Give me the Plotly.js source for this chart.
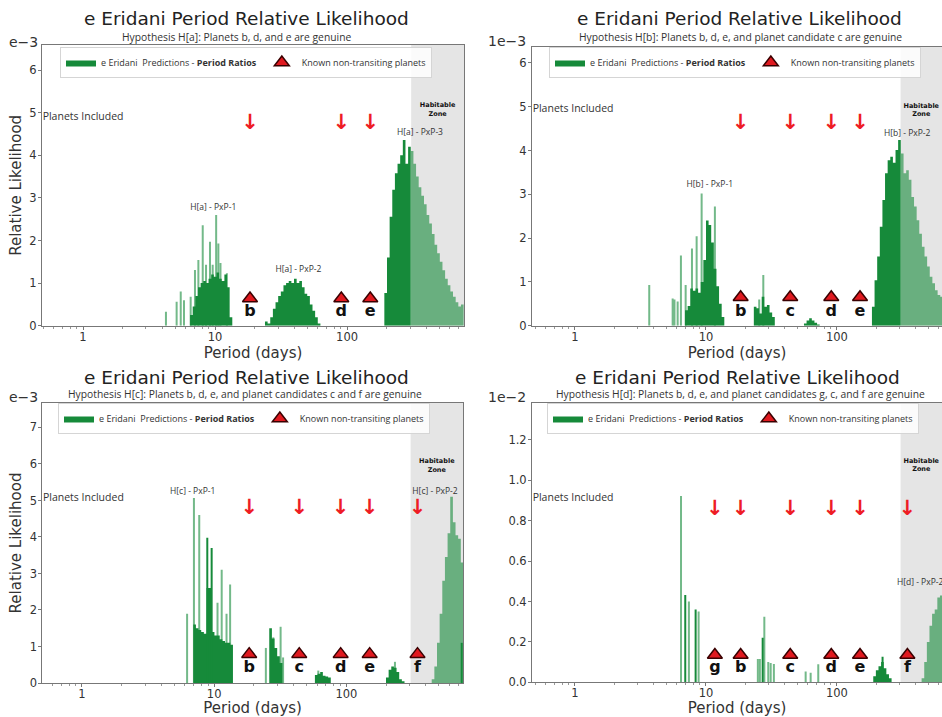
<!DOCTYPE html>
<html><head><meta charset="utf-8">
<script src="https://cdn.plot.ly/plotly-3.0.1.min.js"></script>
<style>html,body{margin:0;padding:0;background:#fff;}#chart{width:942px;height:717px;}</style>
</head><body><div id="chart"></div>
<script>
// ---------------- DATA ----------------
const BIN_DEX = 0.02;            // histogram bin width (log10 days)
const HZ_START = 306;            // habitable zone inner edge (days)
const PLANET_NAMES   = ['g', 'b', 'c', 'd', 'e', 'f'];
const PLANET_PERIODS = [11.7, 18.4, 44, 90.5, 150, 345];
const A_PLANETS = ['b', 'd', 'e'];
const B_PLANETS = ['b', 'c', 'd', 'e'];
const C_PLANETS = ['b', 'c', 'd', 'e', 'f'];
const D_PLANETS = ['g', 'b', 'c', 'd', 'e', 'f'];
const TICK_X = [1, 10, 100];
const TICK_X_TEXT = ['1', '10', '100'];
const MINOR_X = [0.5,0.6,0.7,0.8,0.9,2,3,4,5,6,7,8,9,20,30,40,50,60,70,80,90,200,300,400,500,600,700];

// Hypothesis H[a]
const A_DARK_STARTS = [6.47, 23.9, 191.7];
const A_DARK_1 = [0.25,0.45,0.7,0.9,1.0,1.05,1.0,1.1,1.2,1.15,1.25,1.1,1.05,1.2,0.9,0.2];
const A_DARK_2 = [0.1,0.05,0.2,0.4,0.55,0.7,0.8,0.95,1.0,1.05,1.0,1.1,1.0,1.05,0.9,0.75,0.7,0.5,0.35,0.2,0.05];
const A_DARK_3 = [0.77,1.6,2.56,3.19,3.58,3.8,4.0,4.36,3.8,4.2];
const A_LIGHT_STARTS = [304];
const A_LIGHT_1 = [4.1,3.8,3.5,3.25,3.05,2.85,2.6,2.4,2.15,1.9,1.7,1.5,1.3,1.1,0.95,0.8,0.68,0.55,0.45,0.5];
const A_SPIKE_P = [4.25,5.12,5.5,5.82,6.54,7.05,7.48,8.07,8.55,9.16,9.6,10.2,10.6,11.0,12.3];
const A_SPIKE_V = [0.33,0.56,0.8,0.6,0.68,1.31,1.54,2.36,1.43,1.97,1.43,2.6,1.93,1.47,1.23];

// Hypothesis H[b]
const B_DARK_STARTS = [6.92, 23.2, 56, 185];
const B_DARK_1 = [0.35,0.45,0.85,0.8,0.85,0.75,1.0,1.5,2.4,2.3,1.9,1.3,0.9,0.5,0.2];
const B_DARK_2 = [0.43,0.4,0.28,0.66,0.43,0.47,0.3,0.2];
const B_DARK_3 = [0.05,0.12,0.17,0.12,0.07,0.03];
const B_DARK_4 = [0.43,1.04,1.58,2.26,2.87,3.48,3.78,3.86,3.72,4.01,4.24];
const B_LIGHT_STARTS = [308];
const B_LIGHT_1 = [3.93,3.48,3.55,3.33,2.94,2.72,2.41,2.1,1.8,1.58,1.35,1.12,0.97,0.81,0.70,0.66];
const B_SPIKE_P = [3.69,5.57,5.75,6.08,6.44,7.0,7.82,8.49,9.27,11.7,25.5,27.4];
const B_SPIKE_V = [0.93,0.62,0.6,0.55,1.6,0.93,1.76,2.04,3.02,2.72,0.6,1.16];

// Hypothesis H[c]
const C_DARK_STARTS = [6.95, 26.1, 57.8, 199.3];
const C_DARK_1 = [1.6,1.5,1.45,1.4,1.35,2.6,2.6,1.4,1.3,1.3,1.2,1.15,1.1,1.1,1.05];
const C_DARK_2 = [1.5,1.22,0.96,0.73,0.55];
const C_DARK_3 = [0.22,0.25,0.3,0.2,0.18,0.15];
const C_DARK_4 = [0.15,0.36,0.45,0.42,0.3,0.1,0.05];
const C_LIGHT_STARTS = [442];
const C_LIGHT_1 = [0.1,0.45,1.1,1.9,2.8,3.45,4.1,5.1,4.4,4.05,3.95,3.3];
const C_SPIKE_P = [6.24,7.03,7.71,10.6,11.4,12.4,13.2,24.6,28.0,31.8,33.2,61.3,233];
const C_SPIKE_V = [1.9,5.07,4.6,2.2,3.1,1.9,2.7,0.96,1.25,1.54,0.7,0.34,0.58];
const C_DSPIKE_P = [8.87, 9.57, 745];
const C_DSPIKE_V = [3.98, 3.7, 1.1];

// Hypothesis H[d]
const D_DARK_STARTS = [189.3];
const D_DARK_1 = [0.03,0.06,0.08,0.1,0.07,0.04,0.02];
const D_LIGHT_STARTS = [443];
const D_LIGHT_1 = [0.02,0.1,0.2,0.28,0.34,0.36,0.42,0.43];
const D_SPIKE_P = [6.45,7.41,8.79,24.9,25.8,27.9,29.9,31.2,33.0,57.7,63.0,72.0];
const D_SPIKE_V = [0.922,0.40,0.35,0.115,0.115,0.325,0.10,0.095,0.09,0.053,0.047,0.089];
const D_DSPIKE_P = [6.95, 8.34, 27.1, 223];
const D_DSPIKE_V = [0.432, 0.36, 0.22, 0.127];

// annotation data
const HYP_LABELS = ['H[a]', 'H[b]', 'H[c]', 'H[d]'];
const SUBTITLES = [
  'Hypothesis H[a]: Planets b, d, and e are genuine',
  'Hypothesis H[b]: Planets b, d, e, and planet candidate c are genuine',
  'Hypothesis H[c]: Planets b, d, e, and planet candidates c and f are genuine',
  'Hypothesis H[d]: Planets b, d, e, and planet candidates g, c, and f are genuine'
];
const EXPONENTS = ['e\u22123', '1e\u22123', 'e\u22123', '1e\u22122'];
const A_PXP_P = [9.7, 42.8, 357];   const A_PXP_V = [2.76, 1.31, 4.53];
const B_PXP_P = [10.7, 344];        const B_PXP_V = [3.21, 4.39];
const C_PXP_P = [6.88, 468];        const C_PXP_V = [5.24, 5.24];
const D_PXP_P = [287];              const D_PXP_V = [0.49];

// ---------------- STYLE / LAYOUT ----------------
const W = 942, H = 717;
const DARK = 'rgb(22,138,58)';
const LIGHT = 'rgba(22,138,58,0.6)';
const RED = '#ee1c25';
const FONT = 'DejaVu Sans';
const SFONT = 'Open Sans';
const fx = x => x / W, fy = y => 1 - y / H;

const PANELS = [
  {dStarts:A_DARK_STARTS, dark:[A_DARK_1,A_DARK_2,A_DARK_3], lStarts:A_LIGHT_STARTS, light:[A_LIGHT_1],
   sp:A_SPIKE_P, sv:A_SPIKE_V, dsp:[], dsv:[], planets:A_PLANETS, pxpP:A_PXP_P, pxpV:A_PXP_V,
   xdom:[42,464], ydom:[45,325.7], xr:[-0.3106,2.886], yr:[0,6.59], dtick:1, fmt:'d',
   arrowV:4.73, triV:0.64, letV:0.33, incV:4.9, hzV:5.07, ytitle:true,
   title:[246.7,18.5], sub:[236.7,37], exp:[23.5,42], leg:[60,47]},
  {dStarts:B_DARK_STARTS, dark:[B_DARK_1,B_DARK_2,B_DARK_3,B_DARK_4], lStarts:B_LIGHT_STARTS, light:[B_LIGHT_1],
   sp:B_SPIKE_P, sv:B_SPIKE_V, dsp:[], dsv:[], planets:B_PLANETS, pxpP:B_PXP_P, pxpV:B_PXP_V,
   xdom:[532,942], ydom:[46.7,325.7], xr:[-0.328,2.802], yr:[0,6.37], dtick:1, fmt:'d',
   arrowV:4.62, triV:0.65, letV:0.32, incV:4.93, hzV:4.92, ytitle:false,
   title:[739.3,18.2], sub:[740,36.5], exp:[506.5,41], leg:[549,47]},
  {dStarts:C_DARK_STARTS, dark:[C_DARK_1,C_DARK_2,C_DARK_3,C_DARK_4], lStarts:C_LIGHT_STARTS, light:[C_LIGHT_1],
   sp:C_SPIKE_P, sv:C_SPIKE_V, dsp:C_DSPIKE_P, dsv:C_DSPIKE_V, planets:C_PLANETS, pxpP:C_PXP_P, pxpV:C_PXP_V,
   xdom:[42.3,463], ydom:[403,683], xr:[-0.300,2.882], yr:[0,7.67], dtick:1, fmt:'d',
   arrowV:4.76, triV:0.79, letV:0.40, incV:5.07, hzV:5.95, ytitle:true,
   title:[246.7,377], sub:[245,394], exp:[23.5,397], leg:[58,403]},
  {dStarts:D_DARK_STARTS, dark:[D_DARK_1], lStarts:D_LIGHT_STARTS, light:[D_LIGHT_1],
   sp:D_SPIKE_P, sv:D_SPIKE_V, dsp:D_DSPIKE_P, dsv:D_DSPIKE_V, planets:D_PLANETS, pxpP:D_PXP_P, pxpV:D_PXP_V,
   xdom:[532,942], ydom:[403,682.3], xr:[-0.328,2.802], yr:[0,1.383], dtick:0.2, fmt:'.1f',
   arrowV:0.856, triV:0.135, letV:0.069, incV:0.91, hzV:1.073, ytitle:false,
   title:[737.7,377], sub:[740,394], exp:[506.5,397], leg:[547,403]}
];

function stepXY(starts, lists) {
  const xs = [], ys = [];
  starts.forEach((s, k) => {
    const vals = lists[k], l0 = Math.log10(s);
    xs.push(s); ys.push(0);
    vals.forEach((v, i) => { xs.push(Math.pow(10, l0 + i * BIN_DEX)); ys.push(v); });
    xs.push(Math.pow(10, l0 + vals.length * BIN_DEX)); ys.push(0);
  });
  return {xs, ys};
}
function spikeXY(ps, vs) {
  const xs = [], ys = [];
  ps.forEach((p, i) => { xs.push(p, p, null); ys.push(0, vs[i], null); });
  return {xs, ys};
}

const traces = [], annotations = [], shapes = [];
const layout = {width: W, height: H, margin: {l:0, r:0, t:0, b:0, autoexpand:false}, paper_bgcolor: '#fff', plot_bgcolor: '#fff', showlegend: true};

PANELS.forEach((P, k) => {
  const n = k === 0 ? '' : String(k + 1);
  const xa = 'x' + n, ya = 'y' + n, legName = 'legend' + n;
  const s = spikeXY(P.sp, P.sv);
  traces.push({type:'scatter', mode:'lines', x:s.xs, y:s.ys, xaxis:xa, yaxis:ya, line:{color:LIGHT, width:2}, showlegend:false, hoverinfo:'skip'});
  const l = stepXY(P.lStarts, P.light);
  traces.push({type:'scatter', mode:'lines', x:l.xs, y:l.ys, xaxis:xa, yaxis:ya, line:{shape:'hv', width:0, color:LIGHT}, fill:'tozeroy', fillcolor:LIGHT, showlegend:false, hoverinfo:'skip'});
  const d = stepXY(P.dStarts, P.dark);
  traces.push({type:'scatter', mode:'lines', x:d.xs, y:d.ys, xaxis:xa, yaxis:ya, line:{shape:'hv', width:0, color:DARK}, fill:'tozeroy', fillcolor:DARK,
    name:'e Eridani  Predictions - <b>Period Ratios</b>', legend:legName, showlegend:true, hoverinfo:'skip'});
  if (P.dsp.length) {
    const ds = spikeXY(P.dsp, P.dsv);
    traces.push({type:'scatter', mode:'lines', x:ds.xs, y:ds.ys, xaxis:xa, yaxis:ya, line:{color:DARK, width:2}, showlegend:false, hoverinfo:'skip'});
  }
  const per = P.planets.map(p => PLANET_PERIODS[PLANET_NAMES.indexOf(p)]);
  traces.push({type:'scatter', mode:'markers', x:per, y:per.map(() => P.triV), xaxis:xa, yaxis:ya,
    marker:{symbol:'triangle-up', size:13, color:'#e0191f', line:{color:'#3a0000', width:1.5}},
    name:'Known non-transiting planets', legend:legName, showlegend:true, hoverinfo:'skip', cliponaxis:false});
  traces.push({type:'scatter', mode:'text', x:per, y:per.map(() => P.letV), text:P.planets, xaxis:xa, yaxis:ya,
    textfont:{family:FONT, size:16, color:'#111', weight:'bold'}, textposition:'middle center', showlegend:false, hoverinfo:'skip', cliponaxis:false});
  traces.push({type:'scatter', mode:'text', x:per, y:per.map(() => P.arrowV), text:per.map(() => '\u2193'), xaxis:xa, yaxis:ya,
    textfont:{family:FONT, size:21, color:RED, weight:'bold'}, textposition:'middle center', showlegend:false, hoverinfo:'skip', cliponaxis:false});
  traces.push({type:'scatter', mode:'text', x:P.pxpP, y:P.pxpV, text:P.pxpP.map((_, i) => HYP_LABELS[k] + ' - PxP-' + (i + 1 + (k === 3 ? 1 : 0))),
    xaxis:xa, yaxis:ya, textfont:{family:SFONT, size:8.5, color:'#333'}, textposition:k === 3 ? 'middle right' : 'middle center',
    showlegend:false, hoverinfo:'skip', cliponaxis:false});
  traces.push({type:'scatter', mode:'text', x:[Math.pow(10, (Math.log10(HZ_START) + P.xr[1]) / 2)], y:[P.hzV], text:['<b>Habitable</b><br><b>Zone</b>'],
    xaxis:xa, yaxis:ya, textfont:{family:FONT, size:6.5, color:'#111'}, textposition:'middle center', showlegend:false, hoverinfo:'skip', cliponaxis:false});
  traces.push({type:'scatter', mode:'text', x:[Math.pow(10, P.xr[0] + 0.005)], y:[P.incV], text:['Planets Included'],
    xaxis:xa, yaxis:ya, textfont:{family:SFONT, size:10.5, color:'#333'}, textposition:'middle right', showlegend:false, hoverinfo:'skip', cliponaxis:false});

  shapes.push({type:'rect', xref:xa, yref:ya + ' domain', x0:HZ_START, x1:100000, y0:0, y1:1,
    fillcolor:'#e5e5e5', line:{width:0}, layer:'below'});

  layout['xaxis' + n] = {type:'log', domain:[fx(P.xdom[0]), Math.min(1, fx(P.xdom[1]))], range:P.xr, anchor:ya,
    showline:true, mirror:true, linecolor:'#777', linewidth:1, ticks:'outside', ticklen:3, tickcolor:'#777',
    tickmode:'array', tickvals:TICK_X, ticktext:TICK_X_TEXT, tickfont:{family:FONT, size:11.5, color:'#333'},
    minor:{tickmode:'array', tickvals:MINOR_X, ticks:'outside', ticklen:2, tickcolor:'#999', showgrid:false},
    showgrid:false, zeroline:false, automargin:false, ticklabelstandoff:-3,
    title:{text:'Period (days)', font:{family:FONT, size:15, color:'#333'}, standoff:0}};
  layout['yaxis' + n] = {domain:[fy(P.ydom[1]), fy(P.ydom[0])], range:P.yr, anchor:xa,
    showline:true, mirror:true, linecolor:'#777', linewidth:1, ticks:'outside', ticklen:3, tickcolor:'#777',
    dtick:P.dtick, tick0:0, tickformat:P.fmt, tickfont:{family:FONT, size:11.5, color:'#333'},
    showgrid:false, zeroline:false, automargin:false, ticklabelstandoff:-1,
    title:P.ytitle ? {text:'Relative Likelihood', font:{family:FONT, size:15, color:'#333'}, standoff:4} : {text:''}};
  layout[legName] = {x:fx(P.leg[0]), y:fy(P.leg[1]), xanchor:'left', yanchor:'top', orientation:'h',
    font:{family:SFONT, size:9, color:'#333'}, bgcolor:'rgba(255,255,255,0.85)', bordercolor:'#d5d5d5', borderwidth:1,
    itemwidth:30, tracegroupgap:0};

  annotations.push({xref:'paper', yref:'paper', x:fx(P.title[0]), y:fy(P.title[1]), xanchor:'center', yanchor:'middle', showarrow:false,
    text:'e Eridani Period Relative Likelihood', font:{family:FONT, size:18.5, color:'#222'}});
  annotations.push({xref:'paper', yref:'paper', x:fx(P.sub[0]), y:fy(P.sub[1]), xanchor:'center', yanchor:'middle', showarrow:false,
    text:SUBTITLES[k], font:{family:SFONT, size:10.3, color:'#333'}});
  annotations.push({xref:'paper', yref:'paper', x:fx(P.exp[0]), y:fy(P.exp[1]), xanchor:'center', yanchor:'middle', showarrow:false,
    text:EXPONENTS[k], font:{family:FONT, size:14, color:'#333'}});
});
layout.annotations = annotations;
layout.shapes = shapes;

Plotly.newPlot('chart', traces, layout, {displayModeBar:false, staticPlot:true});
</script>
</body></html>
